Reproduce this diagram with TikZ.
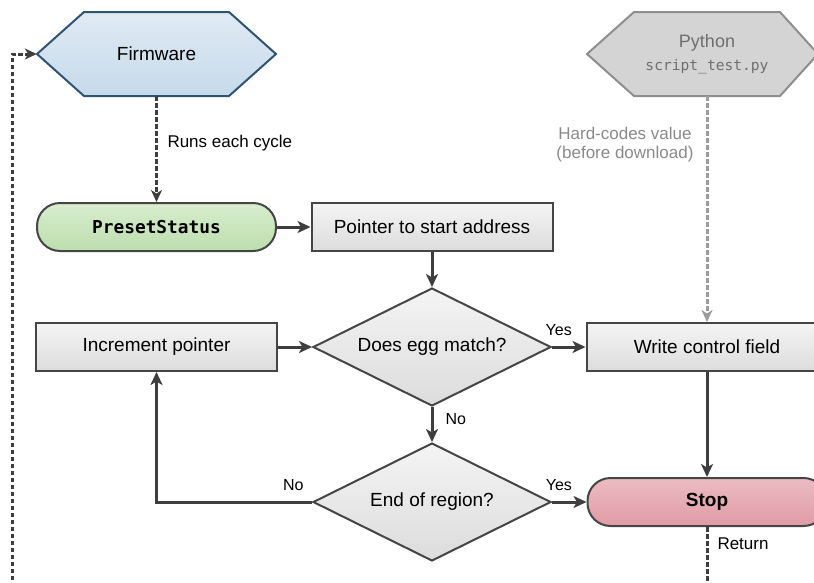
\documentclass[tikz,border=0pt]{standalone}
\usepackage{fontspec}
\setmainfont{Liberation Sans}
\setmonofont{DejaVu Sans Mono}
\usetikzlibrary{shapes.geometric,arrows.meta,calc}
\definecolor{linec}{HTML}{3E3E3E}
\definecolor{boxborder}{HTML}{454545}
\definecolor{graytop}{HTML}{F4F4F4}
\definecolor{graybot}{HTML}{DCDCDC}
\definecolor{fwtop}{HTML}{E0EAF4}
\definecolor{fwbot}{HTML}{C6DAEA}
\definecolor{fwborder}{HTML}{2F5373}
\definecolor{greentop}{HTML}{D8EDCE}
\definecolor{greenbot}{HTML}{BCDEAD}
\definecolor{pinktop}{HTML}{EDBCC3}
\definecolor{pinkbot}{HTML}{DF9AA5}
\definecolor{pyfill}{HTML}{D4D4D4}
\definecolor{pyborder}{HTML}{8E8E8E}
\definecolor{pytext}{HTML}{6E6E6E}
\definecolor{notetext}{HTML}{8A8A8A}
\definecolor{pydash}{HTML}{9C9C9C}
\begin{document}
\begin{tikzpicture}[x=1pt,y=-1pt,
  bigfont/.style={font=\fontsize{19}{22}\selectfont},
  smallfont/.style={font=\fontsize{17}{19}\selectfont},
  ynfont/.style={font=\fontsize{16}{18}\selectfont},
  hexn/.style={rectangle, minimum width=239pt, minimum height=84pt, inner sep=0pt, bigfont, align=center},
  procbox/.style={rectangle, draw=boxborder, line width=2pt, top color=graytop, bottom color=graybot, minimum width=241pt, minimum height=48pt, inner sep=0pt, bigfont},
  termbox/.style={rectangle, rounded corners=23pt, draw=boxborder, line width=2pt, minimum width=239pt, minimum height=48pt, inner sep=0pt, bigfont},
  decis/.style={diamond, shape aspect=2, draw=boxborder, line width=2pt, top color=graytop, bottom color=graybot, minimum width=238pt, minimum height=118pt, inner sep=1pt, bigfont},
  conn/.style={draw=linec, line width=3pt, -{Stealth[length=13pt,width=12pt,inset=3.5pt]}},
  dashconn/.style={draw=linec, line width=3pt, dash pattern=on 4.5pt off 2.5pt, -{Stealth[length=12pt,width=11pt,inset=3.5pt]}},
  pyconn/.style={draw=pydash, line width=3pt, dash pattern=on 4.5pt off 2.5pt, -{Stealth[length=12pt,width=11pt,inset=3.5pt]}},
  lab/.style={smallfont, text=black, inner sep=2pt},
  yn/.style={ynfont, text=black, inner sep=2pt}
]
\useasboundingbox (0,0) rectangle (814,582);

% Firmware hexagon
\coordinate (fwc) at (156.5,54);
\path[draw=fwborder, line width=2pt, top color=fwtop, bottom color=fwbot, line join=miter]
  ($(fwc)+(-119.5,0)$) -- ($(fwc)+(-72.5,-42)$) -- ($(fwc)+(72.5,-42)$) -- ($(fwc)+(119.5,0)$)
  -- ($(fwc)+(72.5,42)$) -- ($(fwc)+(-72.5,42)$) -- cycle;
\node[hexn] (fw) at (fwc) {Firmware};

% Python hexagon
\coordinate (pyc) at (707,54);
\path[draw=pyborder, line width=2pt, fill=pyfill, line join=miter]
  ($(pyc)+(-120,0)$) -- ($(pyc)+(-73,-42)$) -- ($(pyc)+(73,-42)$) -- ($(pyc)+(111,0)$)
  -- ($(pyc)+(73,42)$) -- ($(pyc)+(-73,42)$) -- cycle;
\node[hexn, text=pytext] (py) at (pyc) {\fontsize{18}{20}\selectfont\raisebox{-2pt}{Python}\\[3pt]{\ttfamily\fontsize{14.6}{18}\selectfont script\_test.py}};

% Main nodes
\node[termbox, top color=greentop, bottom color=greenbot] (ps) at (156.5,227) {\ttfamily\bfseries\fontsize{17.8}{20}\selectfont PresetStatus};
\node[procbox] (pa) at (432,227) {Pointer to start address};
\node[procbox] (ip) at (156.5,347) {Increment pointer};
\node[decis] (dm) at (432,347) {Does egg match?};
\node[procbox] (wc) at (707,347) {Write control field};
\node[decis] (er) at (432,502) {End of region?};
\node[termbox, top color=pinktop, bottom color=pinkbot] (st) at (707,502) {\bfseries Stop};

\coordinate (retbot) at (707,640);
\coordinate (retleft) at (12,54);

% Connectors
\draw[dashconn] (fw.south) -- node[lab, right=7.5pt, pos=0.44] {Runs each cycle} (ps.north);
\draw[conn] (ps.east) -- (pa.west);
\draw[conn] (pa.south) -- (dm.north);
\draw[conn] (ip.east) -- (dm.west);
\draw[conn] (dm.east) -- node[yn, above=8pt, pos=0.2] {Yes} (wc.west);
\draw[conn] (dm.south) -- node[yn, right=10pt, pos=0.35] {No} (er.north);
\draw[conn] (er.west) -| node[yn, above=8pt, pos=0.06] {No} (ip.south);
\draw[conn] (er.east) -- node[yn, above=8pt, pos=0.2] {Yes} (st.west);
\draw[conn] (wc.south) -- (st.north);
\draw[pyconn] (py.south) -- node[lab, text=notetext, left=10pt, pos=0.213, align=center] {Hard-codes value\\(before download)} (wc.north);
\draw[dashconn] (st.south) -- node[lab, right=7pt, pos=0.15] {Return} (retbot) -| (retleft) -- (fw.west);
\end{tikzpicture}
\end{document}
